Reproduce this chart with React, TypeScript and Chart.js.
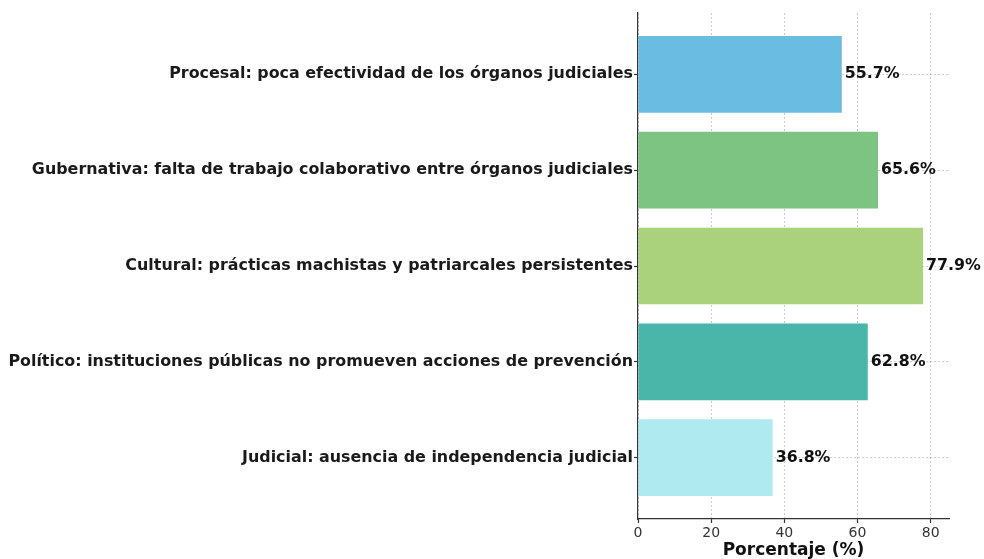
import React, { useEffect, useRef } from "react";
import { Chart, registerables } from "chart.js";

Chart.register(...registerables);

const categories = [
  "Procesal: poca efectividad de los órganos judiciales",
  "Gubernativa: falta de trabajo colaborativo entre órganos judiciales",
  "Cultural: prácticas machistas y patriarcales persistentes",
  "Político: instituciones públicas no promueven acciones de prevención",
  "Judicial: ausencia de independencia judicial",
];
const values = [55.7, 65.6, 77.9, 62.8, 36.8];
const barColors = ["#6BBCE2", "#7DC482", "#AAD27C", "#4AB5A9", "#B0EAF1"];
const xTicks = [0, 20, 40, 60, 80];
const xTitle = "Porcentaje (%)";

const FONT = "'DejaVu Sans', sans-serif";

const valueLabels = {
  id: "valueLabels",
  afterDraw(chart: any) {
    const ctx = chart.ctx;
    const meta = chart.getDatasetMeta(0);
    ctx.save();
    ctx.font = `bold 15.8px ${FONT}`;
    ctx.fillStyle = "#111";
    ctx.textAlign = "left";
    ctx.textBaseline = "middle";
    meta.data.forEach((el: any, i: number) => {
      ctx.fillText(`${values[i].toFixed(1)}%`, el.x + 3, el.y);
    });
    ctx.restore();
  },
};

export default function App() {
  const ref = useRef<HTMLCanvasElement>(null);
  useEffect(() => {
    if (!ref.current) return;
    const gridOpts: any = {
      color: "rgba(160,160,160,0.55)",
      lineWidth: 1,
      tickColor: "#333",
      tickLength: 4,
      tickBorderDash: [],
      tickWidth: 1.2,
      offset: false,
    };
    const chart = new Chart(ref.current, {
      type: "bar",
      data: {
        datasets: [
          {
            data: values.map((v, i) => ({ x: v, y: i })) as any,
            backgroundColor: barColors,
            borderWidth: 0,
            categoryPercentage: 1,
            barPercentage: 0.8,
          },
        ],
      },
      options: {
        indexAxis: "y",
        animation: false,
        responsive: false,
        devicePixelRatio: 1,
        layout: { padding: { top: 13, right: 35, left: 0, bottom: 0 } },
        plugins: { legend: { display: false }, tooltip: { enabled: false } },
        scales: {
          x: {
            type: "linear",
            min: 0,
            max: 85,
            z: 1,
            offset: false,
            afterBuildTicks: (s: any) => {
              s.ticks = xTicks.map((v) => ({ value: v }));
            },
            afterFit: (s: any) => {
              s.height = 559 - 519;
            },
            ticks: {
              font: { family: FONT, size: 14 },
              color: "#333",
              padding: 2,
              maxRotation: 0,
            },
            grid: gridOpts,
            border: { color: "#333", width: 1.2, dash: [2, 2] } as any,
            title: {
              display: true,
              text: xTitle,
              font: { family: FONT, size: 17, weight: "bold" },
              color: "#111",
              padding: { top: 0, bottom: -2 },
            },
          },
          y: {
            type: "linear",
            min: -0.64,
            max: 4.64,
            reverse: true,
            z: 1,
            offset: false,
            afterBuildTicks: (s: any) => {
              s.ticks = categories.map((_, i) => ({ value: i }));
            },
            afterFit: (s: any) => {
              s.width = 638;
            },
            ticks: {
              font: { family: FONT, size: 15.9, weight: "bold" },
              color: "#1a1a1a",
              padding: 1,
              callback: (v: any) => categories[Math.round(Number(v))] ?? "",
            },
            grid: gridOpts,
            border: { color: "#333", width: 1.2, dash: [2, 2] } as any,
          },
        },
      },
      plugins: [valueLabels],
    });
    return () => chart.destroy();
  }, []);
  return (
    <div
      style={{
        position: "fixed",
        left: 0,
        top: 0,
        width: 984,
        height: 559,
        overflow: "hidden",
        background: "#fff",
      }}
    >
      <canvas ref={ref} width={984} height={559} style={{ width: 984, height: 559 }} />
    </div>
  );
}
